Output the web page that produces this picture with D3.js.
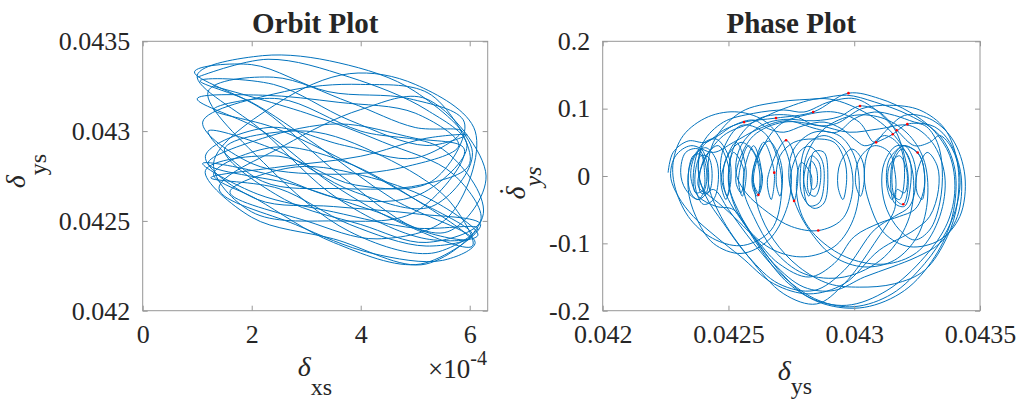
<!DOCTYPE html>
<html>
<head>
<meta charset="utf-8">
<script src="https://cdn.jsdelivr.net/npm/d3@7"></script>
<style>
  body { margin: 0; background: #fff; }
  svg { display: block; }
  text { font-family: "Liberation Serif", "Times New Roman", serif; fill: #262626; }
</style>
</head>
<body>
<svg id="fig" width="1035" height="403"></svg>
<script>
// ---- tick values and labels ----
const orbitXTicks = [0, 2, 4, 6];                       // δxs in units of 1e-4
const orbitXTickLabels = ["0", "2", "4", "6"];
const orbitYTicks = [0.042, 0.0425, 0.043, 0.0435];
const orbitYTickLabels = ["0.042", "0.0425", "0.043", "0.0435"];
const phaseXTicks = [0.042, 0.0425, 0.043, 0.0435];
const phaseXTickLabels = ["0.042", "0.0425", "0.043", "0.0435"];
const phaseYTicks = [-0.2, -0.1, 0, 0.1, 0.2];
const phaseYTickLabels = ["-0.2", "-0.1", "0", "0.1", "0.2"];

// ---- orbit trajectory: [δxs (×1e-4), δys] ----
const orbitPath = [
  [1.00,0.04330],
  [2.3,0.04340],[3.8,0.04330],[5.2,0.04312],[5.95,0.04292],
  [5.1,0.04265],[3.7,0.04262],[2.3,0.04276],[1.1,0.04282],
  [2.1,0.04265],[3.5,0.04255],[5.0,0.04246],[6.15,0.04246],
  [5.3,0.04232],[3.8,0.04244],[2.3,0.04280],[1.2,0.04322],
  [2.4,0.04330],[3.8,0.04316],[5.0,0.04302],[5.85,0.04300],
  [5.0,0.04285],[3.7,0.04292],[2.3,0.04302],[1.15,0.04286],
  [2.1,0.04262],[3.5,0.04258],[5.0,0.04254],[6.2,0.04248],
  [5.1,0.04226],[3.5,0.04238],[2.1,0.04262],[1.3,0.04276],
  [2.4,0.04291],[3.7,0.04283],[5.0,0.04262],[6.0,0.04240],
  [5.0,0.04246],[3.6,0.04276],[2.2,0.04312],[0.95,0.04333],
  [2.0,0.04337],[3.4,0.04322],[4.9,0.04318],[5.9,0.04305],
  [5.3,0.04272],[3.9,0.04270],[2.5,0.04286],[1.15,0.04278],
  [2.0,0.04252],[3.5,0.04240],[5.2,0.04226],[6.25,0.04254],
  [5.5,0.04290],[4.0,0.04300],[2.5,0.04318],[1.3,0.04312],
  [2.4,0.04302],[3.8,0.04282],[5.0,0.04262],[6.05,0.04242],
  [5.2,0.04236],[3.8,0.04248],[2.5,0.04268],[1.25,0.04274],
  [2.5,0.04280],[4.0,0.04286],[5.2,0.04296],[5.95,0.04298],
  [5.2,0.04292],[3.8,0.04306],[2.4,0.04326],[1.05,0.04328],
  [2.0,0.04316],[3.2,0.04292],[4.6,0.04262],[6.1,0.04238],
  [5.5,0.04228],[4.2,0.04232],[2.8,0.04248],[1.4,0.04268],
  [2.6,0.04292],[4.0,0.04312],[5.2,0.04318],[6.3,0.04275],
  [5.6,0.04244],[4.2,0.04256],[2.8,0.04270],[1.2,0.04282],
  [2.2,0.04296],[3.6,0.04304],[5.0,0.04296],[5.9,0.04290],
  [5.0,0.04255],[3.5,0.04250],[2.0,0.04255],[1.3,0.04282],
  [2.5,0.04316],[3.8,0.04332],[5.0,0.04326],[6.1,0.04300],
  [5.6,0.04252],[4.3,0.04240],[3.0,0.04250],[1.6,0.04266],
  [2.8,0.04280],[4.2,0.04274],[5.4,0.04260],[6.15,0.04242],
  [5.2,0.04240],[3.6,0.04262],[2.2,0.04300],[1.0,0.04331],
  [2.2,0.04342],[3.6,0.04338],[5.0,0.04322],[6.05,0.04288],
  [5.3,0.04258],[3.9,0.04266],[2.4,0.04290],[1.2,0.04300],
  [2.2,0.04272],[3.6,0.04268],[5.1,0.04270],[6.0,0.04282],
  [5.3,0.04320],[4.0,0.04326],[2.6,0.04322],[1.1,0.04305],
  [2.0,0.04282],[3.4,0.04276],[4.8,0.04280],[5.8,0.04292],
  [5.0,0.04310],[3.6,0.04316],[2.2,0.04320],[1.0,0.04318],
  [2.2,0.04300],[3.5,0.04270],[4.8,0.04248],[6.05,0.04236],
  [5.6,0.04262],[4.4,0.04286],[3.0,0.04300],[1.5,0.04290],
  [2.6,0.04262],[4.0,0.04248],[5.2,0.04238],[6.2,0.04250],
  [5.7,0.04276],[4.4,0.04294],[3.0,0.04310],[1.3,0.04325]
];

// ---- phase trajectory: [δys, dδys/dt] ----
const phasePath = [
  [0.04226,0.005],[0.04228,0.035],[0.04234,0.052],[0.04241,0.050],[0.04248,0.068],[0.042562,0.080],
  [0.042689,0.086],[0.042837,0.095],[0.042977,0.123],[0.0431,0.115],[0.04322,0.095],[0.04331,0.070],
  [0.04338,0.030],[0.0434,-0.020],[0.04337,-0.070],[0.04328,-0.120],[0.04313,-0.170],[0.04297,-0.192],
  [0.04282,-0.180],[0.0427,-0.140],[0.0426,-0.090],[0.04252,-0.050],
  [0.04245,-0.045],[0.04238,-0.030],[0.04235,0],[0.04237,0.032],[0.04241,0.042],[0.04245,0.025],
  [0.04246,-0.005],[0.04244,-0.035],[0.0424,-0.042],[0.04237,-0.020],[0.04237,0.010],[0.04239,0.030],
  [0.04242,0.028],[0.042435,0],[0.04242,-0.025],[0.04239,-0.025],[0.042385,0],
  [0.04241,0.030],[0.04246,0.045],[0.042505,0.005],[0.04249,-0.035],[0.04247,-0.005],
  [0.04253,0.050],[0.04257,0.010],[0.042555,-0.030],[0.04254,-0.005],
  [0.04258,0.045],[0.042635,0],[0.042619,-0.028],[0.042595,-0.005],
  [0.04264,0.050],[0.042682,0.005],[0.04267,-0.035],[0.042655,-0.005],
  [0.042729,0.053],[0.042775,0.010],[0.042761,-0.037],[0.042745,-0.005],
  [0.04278,0.035],[0.04282,0.044],[0.04287,0.025],[0.04288,-0.010],[0.04286,-0.040],[0.04282,-0.044],
  [0.0428,-0.020],[0.042805,0.010],[0.04283,0.030],[0.04286,0.020],[0.042865,-0.010],[0.042845,-0.030],
  [0.04282,-0.025],[0.042815,0],[0.04283,0.022],[0.04285,0.010],[0.04285,-0.015],[0.042835,-0.020],
  [0.042825,0],[0.04284,0.036],[0.04288,0.035],[0.042895,0],[0.04288,-0.040],[0.04284,-0.048],
  [0.042795,-0.030],[0.042785,0],
  [0.04281,0.045],[0.04288,0.060],[0.04295,0.045],[0.04299,0.010],[0.04299,-0.030],[0.04295,-0.065],
  [0.042857,-0.081],[0.04275,-0.075],[0.04266,-0.055],[0.04257,-0.025],[0.04253,0.005],[0.04255,0.045],
  [0.04263,0.075],[0.04272,0.084],[0.04284,0.082],[0.04294,0.088],[0.043023,0.104],[0.0431,0.095],
  [0.04316,0.070],[0.0432,0.030],[0.043215,-0.010],[0.043195,-0.042],[0.043165,-0.035],[0.04315,-0.010],
  [0.04316,0.025],[0.04319,0.040],[0.04322,0.025],[0.043225,-0.010],[0.0432,-0.045],[0.04316,-0.040],
  [0.043145,0],[0.043165,0.035],[0.0432,0.045],[0.043235,0.025],[0.043245,-0.010],[0.04322,-0.045],
  [0.04316,-0.060],
  [0.04308,-0.080],[0.04296,-0.140],[0.04284,-0.170],[0.0427,-0.160],[0.04258,-0.120],[0.04248,-0.070],
  [0.04241,-0.030],[0.04238,0.010],[0.0424,0.050],[0.04248,0.080],[0.0426,0.093],[0.04272,0.098],
  [0.0428,0.095],[0.0429,0.110],[0.043,0.115],[0.04308,0.100],[0.043169,0.068],[0.04324,0.045],
  [0.0433,0.050],[0.04334,0.060],[0.04339,0.040],[0.04342,0],[0.04341,-0.040],[0.04337,-0.080],
  [0.04328,-0.130],[0.04315,-0.175],[0.043,-0.194],[0.04286,-0.185],[0.04272,-0.150],[0.0426,-0.100],
  [0.0425,-0.050],[0.04244,-0.020],
  [0.04238,-0.035],[0.04233,-0.020],[0.04231,0.005],[0.04233,0.035],[0.04238,0.040],[0.04241,0.015],
  [0.04241,-0.015],[0.04238,-0.035],[0.04235,-0.025],[0.04234,0],[0.04236,0.030],[0.04239,0.032],
  [0.042405,0.005],[0.0424,-0.020],[0.04237,-0.025],[0.04236,0],[0.04239,0.045],[0.04246,0.060],
  [0.04252,0.075],[0.0426,0.083],[0.04266,0.070],[0.04272,0.065],[0.0428,0.075],[0.04288,0.080],
  [0.04295,0.070],[0.043,0.055],[0.04304,0.045],[0.043087,0.050],[0.043153,0.062],[0.043211,0.077],
  [0.04328,0.075],[0.04333,0.050],[0.04335,0.010],[0.04334,-0.040],[0.0433,-0.080],[0.04324,-0.095],
  [0.04318,-0.080],[0.04313,-0.050],[0.04311,-0.015],[0.04312,0.020],[0.04317,0.045],[0.043252,0.035],
  [0.04328,0],[0.04327,-0.030],[0.04324,-0.050],[0.04318,-0.060],[0.0431,-0.070],[0.043,-0.090],
  [0.04292,-0.130],[0.04282,-0.150],[0.0427,-0.130],[0.0426,-0.090],[0.04252,-0.060],[0.04246,-0.040],
  [0.0424,-0.020],
  [0.04238,0.010],[0.0424,0.045],[0.04245,0.055],[0.0425,0.030],[0.04251,-0.005],[0.042495,-0.030],
  [0.04248,-0.010],[0.04249,0.025],[0.04255,0.050],[0.0426,0.035],[0.042625,0],[0.042615,-0.030],
  [0.042595,-0.015],[0.042605,0.020],[0.04266,0.052],[0.0427,0.030],[0.042715,0],[0.042705,-0.030],
  [0.04269,-0.010],[0.042705,0.030],[0.04276,0.050],[0.04284,0.055],[0.04292,0.050],[0.04296,0.025],
  [0.04297,-0.005],[0.042955,-0.035],[0.042935,-0.015],[0.042945,0.020],[0.04299,0.040],[0.04303,0.025],
  [0.04304,-0.005],[0.043025,-0.030],[0.043005,-0.010],[0.04302,0.025],[0.04308,0.045],[0.04314,0.035],
  [0.04316,0.010],[0.043165,-0.020],[0.04315,-0.035],[0.04313,-0.015],[0.04314,0.025],[0.0432,0.045],
  [0.04326,0.030],[0.04328,0],[0.04327,-0.035],[0.04325,-0.025],[0.04325,0.005],[0.04329,0.035],
  [0.04333,0.015],[0.043335,-0.020],[0.0433,-0.060],[0.04324,-0.080],
  [0.0431,-0.110],[0.04296,-0.160],[0.04282,-0.175],[0.04268,-0.160],[0.04255,-0.120],[0.04245,-0.090],
  [0.04236,-0.060],[0.0423,-0.030],[0.04227,0],[0.04229,0.030],[0.04235,0.045],[0.04244,0.035],
  [0.04252,0.050],[0.04262,0.070],[0.04273,0.082],[0.04285,0.070],[0.04293,0.065],[0.043,0.085],
  [0.04308,0.095],[0.04316,0.090],[0.04324,0.080],[0.04332,0.073],[0.04338,0.050],[0.043425,0],
  [0.04341,-0.060],[0.04334,-0.100],[0.04325,-0.120],[0.04315,-0.135],[0.04304,-0.150],[0.04292,-0.170],
  [0.0428,-0.165],[0.04268,-0.130],[0.04258,-0.080],[0.0425,-0.035],[0.04247,0],
  [0.04248,0.040],[0.04255,0.075],[0.04264,0.065],[0.0427,0.020],[0.04271,-0.030],[0.04267,-0.080],
  [0.04256,-0.103],[0.04245,-0.095],[0.04235,-0.065],[0.04229,-0.020],[0.04228,0.020],[0.04232,0.060],
  [0.04242,0.088],[0.04254,0.095],[0.04265,0.080],[0.04272,0.045],[0.04275,0],[0.04273,-0.050],
  [0.04266,-0.095],[0.04255,-0.115],[0.04244,-0.100],[0.04237,-0.060],[0.04234,-0.020],
  [0.04235,0.020],[0.04239,0.040],[0.04242,0.010],[0.04241,-0.025],[0.04238,-0.015],
  [0.0424,0.020],[0.04248,0.060],[0.0426,0.080],[0.04272,0.100],[0.04288,0.115],[0.04304,0.095],
  [0.04316,0.060],[0.04323,0.010],[0.04322,-0.060],[0.04312,-0.120],[0.04296,-0.150],[0.0428,-0.145],
  [0.04268,-0.110],[0.0426,-0.060],[0.04256,-0.020],[0.04257,0.020],
  [0.0426,0.045],[0.04263,0.010],[0.04262,-0.025],[0.0426,-0.010],
  [0.04262,0.030],[0.0427,0.075],[0.0428,0.090],[0.04292,0.095],[0.04302,0.080],[0.04308,0.050],
  [0.04312,0.065],[0.0432,0.090],[0.0433,0.085],[0.04339,0.055],[0.04344,0],[0.04342,-0.060],
  [0.04334,-0.095],[0.04322,-0.105],[0.04312,-0.085],[0.04306,-0.040],[0.04304,0],
  [0.04306,0.040],[0.04312,0.060],[0.04318,0.045],[0.0432,0],[0.04318,-0.035],[0.04314,-0.020],
  [0.04314,0.015],[0.04318,0.030],[0.04321,0.005],[0.0432,-0.025],[0.04317,-0.020],
  [0.04316,-0.050],[0.04308,-0.100],[0.04296,-0.160],[0.04285,-0.190],[0.04272,-0.175],[0.04258,-0.120],
  [0.04247,-0.060],[0.04242,-0.010],[0.04244,0.050],[0.04255,0.095],[0.0427,0.110],[0.04286,0.115],
  [0.04297,0.120],[0.04308,0.110],[0.04322,0.090],[0.04334,0.060],[0.0434,0.010],[0.04339,-0.060],
  [0.04332,-0.120],[0.0432,-0.170],[0.04304,-0.195],[0.04288,-0.190],[0.04274,-0.160],[0.04263,-0.110],
  [0.04255,-0.060],[0.0425,-0.010],
  [0.04252,0.035],[0.04256,0.010],[0.04255,-0.025],[0.04253,-0.010],[0.04254,0.020],
  [0.0426,0.060],[0.04272,0.080],[0.04286,0.075],[0.04298,0.065],[0.0431,0.070],[0.04322,0.075],
  [0.04331,0.050],[0.04336,0],[0.04334,-0.060],[0.04326,-0.110],[0.04314,-0.130],[0.043,-0.125],
  [0.04288,-0.100],[0.0428,-0.065],[0.04277,-0.020],[0.04279,0.020],[0.04283,0],[0.04282,-0.030],
  [0.0428,-0.010],
  [0.04281,0.030],[0.04288,0.070],[0.043,0.090],[0.04312,0.085],[0.04322,0.060],[0.04328,0.020],
  [0.04329,-0.040],[0.04325,-0.090],[0.04316,-0.125],[0.04304,-0.135],[0.04292,-0.120],[0.04283,-0.085],
  [0.04277,-0.045],[0.04274,0],
  [0.04276,0.040],[0.04284,0.065],[0.04294,0.060],[0.043,0.030],[0.04302,-0.020],[0.04299,-0.070],
  [0.04292,-0.105],[0.0428,-0.120],[0.04268,-0.110],[0.04258,-0.080],[0.04252,-0.040],[0.0425,0],
  [0.04253,0.050],[0.04262,0.085],[0.04275,0.090],[0.04285,0.075],[0.04293,0.078],[0.04303,0.100],
  [0.04314,0.105],[0.04326,0.098],[0.04336,0.070],[0.04341,0.020],[0.04341,-0.040],[0.04337,-0.090],
  [0.04328,-0.140],[0.04316,-0.160],[0.04302,-0.165],[0.0429,-0.160],[0.04278,-0.135],[0.04268,-0.095],
  [0.04262,-0.050],[0.0426,-0.010]
];

// ---- section points marked in red on the phase trajectory ----
const sectionPoints = [
  [0.042977,0.123],[0.043023,0.104],[0.042837,0.095],[0.042689,0.086],[0.042562,0.080],
  [0.042729,0.053],[0.043169,0.068],[0.043153,0.062],[0.043211,0.077],[0.043087,0.050],
  [0.043252,0.035],[0.042682,0.005],[0.042619,-0.028],[0.042761,-0.037],[0.043195,-0.042],
  [0.042857,-0.081]
];

const svg = d3.select("#fig");
const lineColor = "#0072BD";
const axisColor = "#969696";
const plotTop = 41.3, plotBottom = 310.7;

function drawAxes(g, x, y, xt, xl, yt, yl) {
  const [x0, x1] = x.range();
  const fmtX = d => xl[xt.indexOf(d)];
  const fmtY = d => yl[yt.indexOf(d)];
  const axes = [
    g.append("g").attr("transform", `translate(0,${plotBottom})`)
      .call(d3.axisBottom(x).tickValues(xt).tickFormat(fmtX).tickSizeInner(-5).tickSizeOuter(0).tickPadding(14)),
    g.append("g").attr("transform", `translate(0,${plotTop})`)
      .call(d3.axisTop(x).tickValues(xt).tickFormat("").tickSizeInner(-5).tickSizeOuter(0)),
    g.append("g").attr("transform", `translate(${x0},0)`)
      .call(d3.axisLeft(y).tickValues(yt).tickFormat(fmtY).tickSizeInner(-5).tickSizeOuter(0).tickPadding(12.5)),
    g.append("g").attr("transform", `translate(${x1},0)`)
      .call(d3.axisRight(y).tickValues(yt).tickFormat("").tickSizeInner(-5).tickSizeOuter(0))
  ];
  axes.forEach(a => {
    a.select(".domain").remove();
    a.selectAll(".tick line").attr("stroke", axisColor).attr("stroke-width", 1);
    a.selectAll(".tick text").attr("font-size", 26)
      .attr("font-family", '"Liberation Serif", "Times New Roman", serif').attr("fill", "#262626");
  });
  g.append("rect").attr("x", x0).attr("y", plotTop).attr("width", x1 - x0).attr("height", plotBottom - plotTop)
    .attr("fill", "none").attr("stroke", axisColor).attr("stroke-width", 1);
}

function clipFor(id, x) {
  const [x0, x1] = x.range();
  svg.append("clipPath").attr("id", id).append("rect")
    .attr("x", x0).attr("y", plotTop).attr("width", x1 - x0).attr("height", plotBottom - plotTop);
}

// ================= Orbit Plot =================
const ox = d3.scaleLinear().domain([0, 6.33]).range([142.7, 487.7]);
const oy = d3.scaleLinear().domain([0.042, 0.0435]).range([plotBottom, plotTop]);
const gO = svg.append("g");
clipFor("clipO", ox);
gO.append("path").datum(orbitPath)
  .attr("clip-path", "url(#clipO)")
  .attr("fill", "none").attr("stroke", lineColor).attr("stroke-width", 1)
  .attr("d", d3.line().x(d => ox(d[0])).y(d => oy(d[1])).curve(d3.curveCatmullRom.alpha(0.5)));
drawAxes(gO, ox, oy, orbitXTicks, orbitXTickLabels, orbitYTicks, orbitYTickLabels);

gO.append("text").attr("x", 315.2).attr("y", 33).attr("text-anchor", "middle")
  .attr("font-size", 29).attr("font-weight", "bold").attr("fill", "#000").text("Orbit Plot");

const oxl = gO.append("text").attr("x", 315).attr("y", 376).attr("text-anchor", "middle");
oxl.append("tspan").attr("font-size", 28).attr("font-style", "italic").text("δ");
oxl.append("tspan").attr("font-size", 24).attr("dy", 19).text("xs");

const oxe = gO.append("text").attr("x", 487).attr("y", 378).attr("text-anchor", "end");
oxe.append("tspan").attr("font-size", 27).text("×10");
oxe.append("tspan").attr("font-size", 20).attr("dy", -13).text("-4");

const oyl = gO.append("text").attr("transform", "translate(25,171) rotate(-90)").attr("text-anchor", "middle");
oyl.append("tspan").attr("font-size", 28).attr("font-style", "italic").text("δ");
oyl.append("tspan").attr("font-size", 24).attr("dy", 21).text("ys");

// ================= Phase Plot =================
const px = d3.scaleLinear().domain([0.042, 0.0435]).range([602.7, 980]);
const py = d3.scaleLinear().domain([-0.2, 0.2]).range([plotBottom, plotTop]);
const gP = svg.append("g");
clipFor("clipP", px);
gP.append("path").datum(phasePath)
  .attr("clip-path", "url(#clipP)")
  .attr("fill", "none").attr("stroke", lineColor).attr("stroke-width", 1)
  .attr("d", d3.line().x(d => px(d[0])).y(d => py(d[1])).curve(d3.curveCatmullRom.alpha(0.5)));
gP.selectAll("circle.sec").data(sectionPoints).join("circle").attr("class", "sec")
  .attr("cx", d => px(d[0])).attr("cy", d => py(d[1])).attr("r", 1.3).attr("fill", "#ff0000");
drawAxes(gP, px, py, phaseXTicks, phaseXTickLabels, phaseYTicks, phaseYTickLabels);

gP.append("text").attr("x", 791.3).attr("y", 33).attr("text-anchor", "middle")
  .attr("font-size", 29).attr("font-weight", "bold").attr("fill", "#000").text("Phase Plot");

const pxl = gP.append("text").attr("x", 795).attr("y", 380).attr("text-anchor", "middle");
pxl.append("tspan").attr("font-size", 28).attr("font-style", "italic").text("δ");
pxl.append("tspan").attr("font-size", 24).attr("dy", 14).text("ys");

// rate label: dotted delta with italic subscript, written along the axis
const pylG = gP.append("g").attr("transform", "translate(525,183) rotate(-90)");
const pyl = pylG.append("text").attr("text-anchor", "middle");
pyl.append("tspan").attr("font-size", 28).attr("font-style", "italic").text("δ");
pyl.append("tspan").attr("font-size", 24).attr("font-style", "italic").attr("dy", 16).text("ys");
const dBox = pyl.node().getExtentOfChar(0);
pylG.append("text").attr("x", dBox.x + dBox.width * 0.62).attr("y", -7)
  .attr("text-anchor", "middle").attr("font-size", 28).text("\u02D9");
</script>
</body>
</html>
